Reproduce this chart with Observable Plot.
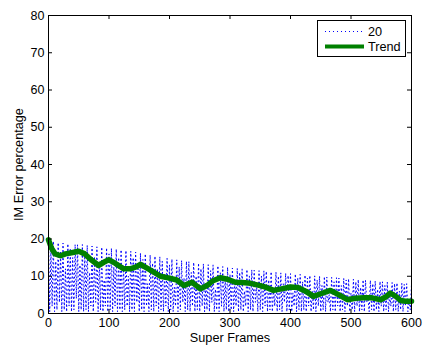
<!DOCTYPE html>
<html><head><meta charset="utf-8">
<script src="https://cdn.jsdelivr.net/npm/d3@7"></script>
<script src="https://cdn.jsdelivr.net/npm/@observablehq/plot@0.6"></script>
<style>body{margin:0;background:#fff}#chart{width:423px;height:351px}</style>
</head><body><div id="chart"></div>
<script>
const seriesLabel = "20";
const trendLabel = "Trend";
const xLabel = "Super Frames";
const yLabel = "IM Error percentage";
const xTicks = [0, 100, 200, 300, 400, 500, 600];
const yTicks = [0, 10, 20, 30, 40, 50, 60, 70, 80];
const frameStep = 2;
const errorValues = [
  19.8, 0.5, 17, 2, 19.4, 0.5, 14, 1, 19, 3, 16.5, 0.5, 18.9, 1, 12, 0.5, 18.7, 2, 17.5, 0.5, 15, 1, 18.5, 4, 18.4, 0.5, 13, 1, 18.5, 0.5,
  16, 1, 18.3, 0.5, 11, 2, 18.1, 0.5, 15, 3, 17.9, 0.5, 14, 1, 17.8, 0.5, 9, 2, 17.6, 0.5, 16, 1, 17.5, 0.5, 12.5, 2, 17.3, 0.5, 15, 1,
  17.1, 0.5, 13, 1, 16.9, 2, 10, 0.5, 16.7, 1, 15, 0.5, 16.5, 3, 12, 0.5, 16.2, 1, 14.5, 0.5, 16, 2, 8, 0.5, 15.7, 1, 13.5, 0.5, 15.4, 2,
  12, 0.5, 15.2, 1, 14, 0.5, 10.5, 2, 14.8, 0.5, 13, 1, 14.6, 0.5, 7, 2, 14.4, 0.5, 12.5, 1, 14.2, 3, 9.5, 0.5, 14, 1, 13.9, 0.5, 11, 2,
  13.7, 0.5, 10, 1, 13.5, 0.5, 12, 2, 13.3, 0.5, 8, 1, 13.1, 0.5, 11.5, 3, 13, 0.5, 6.5, 1, 12.8, 0.5, 11, 2, 12.6, 0.5, 9, 1, 12.4, 0.5,
  10.5, 1, 12.2, 0.5, 8.5, 2, 12.1, 0.5, 11, 1, 11.9, 0.5, 6, 2, 11.8, 0.5, 10, 1, 11.7, 0.5, 11.6, 3, 7.5, 0.5, 11.5, 1, 10, 0.5, 11.4, 2,
  11.3, 0.5, 9, 1, 11.2, 0.5, 6.5, 2, 11.1, 0.5, 10, 1, 10.9, 0.5, 8, 3, 10.8, 0.5, 10.2, 1, 10.7, 0.5, 5.5, 2, 10.6, 0.5, 9.5, 1, 10.5, 0.5,
  8.5, 1, 10.3, 0.5, 9.5, 2, 10.2, 0.5, 6, 1, 10.1, 0.5, 9, 2, 10, 0.5, 7.5, 1, 9.9, 0.5, 9.8, 3, 5, 0.5, 9.7, 1, 8.5, 0.5, 9.6, 2,
  9.5, 0.5, 7.5, 1, 9.4, 0.5, 9, 2, 9.3, 0.5, 5.5, 1, 9.2, 0.5, 8.5, 2, 9.1, 0.5, 7, 1, 9, 0.5, 8.9, 3, 4.5, 0.5, 8.9, 1, 8, 0.5,
  8.7, 1, 6.5, 0.5, 8.6, 2, 8.5, 0.5, 7.5, 1, 8.4, 0.5, 5, 2, 8.3, 0.5, 8, 1, 8.2, 0.5, 6, 1, 8.1, 0.5, 7.8, 2, 8, 0.5, 4, 1,
  7.8
];
const trendFrames = [0, 5, 11, 20, 28, 38, 50, 60, 70, 83, 92, 100, 110, 124, 135, 145, 152, 165, 175, 185,
  200, 212, 224, 237, 251, 262, 272, 284, 296, 309, 320, 334, 350, 360, 372, 385, 400, 412, 425, 438,
  450, 466, 480, 494, 507, 521, 535, 549, 558, 565, 575, 582, 590, 600];
const trendValues = [19.8, 17.5, 16, 15.5, 16, 16.3, 16.7, 16, 14.5, 12.9, 13.8, 14.4, 13.5, 12, 12, 12.5, 13.2, 12, 11, 10,
  9.5, 9, 7.5, 8.4, 6.6, 7.5, 8.8, 9.6, 9.2, 8.4, 8.3, 8.1, 7.5, 7, 6.2, 6.6, 7.1, 7, 6, 4.6,
  5.3, 6.2, 5, 3.7, 4.1, 4.2, 4.2, 3.7, 4.5, 5.5, 4.5, 3.5, 3.3, 3.3];

const errorData = errorValues.map((v, i) => ({frame: i * frameStep, value: v}));
const trendData = trendValues.map((v, i) => ({frame: trendFrames[i], value: v}));

const W = 423, H = 351, mL = 48, mR = 12, mT = 15, mB = 38;
const plotW = W - mL - mR, plotH = H - mT - mB;
const font = "'Liberation Sans', Arial, Helvetica, sans-serif";

const svg = Plot.plot({
  width: W, height: H,
  marginLeft: mL, marginRight: mR, marginTop: mT, marginBottom: mB,
  style: {fontFamily: font, fontSize: "12.5px", color: "black", background: "white"},
  x: {domain: [0, 600]},
  y: {domain: [0, 80]},
  marks: [
    Plot.line(errorData, {x: "frame", y: "value", stroke: "#0000ff", strokeWidth: 1, strokeDasharray: "1,3"}),
    Plot.line(trendData, {x: "frame", y: "value", stroke: "#008000", strokeWidth: 5.5, strokeLinejoin: "round", strokeLinecap: "round"}),
    Plot.frame({stroke: "black", strokeWidth: 1}),
    Plot.tickX(xTicks, {x: d => d, insetTop: plotH - 4, stroke: "black"}),
    Plot.tickX(xTicks, {x: d => d, insetBottom: plotH - 4, stroke: "black"}),
    Plot.tickY(yTicks, {y: d => d, insetRight: plotW - 4, stroke: "black"}),
    Plot.tickY(yTicks, {y: d => d, insetLeft: plotW - 4, stroke: "black"}),
    Plot.axisX({ticks: xTicks, tickSize: 0, tickPadding: 5, label: null}),
    Plot.axisY({ticks: yTicks, tickSize: 0, tickPadding: 4, label: null}),
    Plot.text([xLabel], {text: d => d, frameAnchor: "bottom", dy: 28, fontSize: 12.7}),
    Plot.text([yLabel], {text: d => d, frameAnchor: "left", textAnchor: "middle", dx: -30, rotate: -90, fontSize: 12.7})
  ]
});

// legend box inside the plot area (top-right)
const g = d3.select(svg).append("g").attr("font-family", font).attr("font-size", 12.7).attr("text-anchor", "start");
g.append("rect").attr("x", 317.5).attr("y", 20.5).attr("width", 88).attr("height", 36)
  .attr("fill", "white").attr("stroke", "black");
g.append("line").attr("x1", 325).attr("x2", 364).attr("y1", 31.5).attr("y2", 31.5)
  .attr("stroke", "#0000ff").attr("stroke-width", 1).attr("stroke-dasharray", "1,3");
g.append("line").attr("x1", 325).attr("x2", 364).attr("y1", 46.5).attr("y2", 46.5)
  .attr("stroke", "#008000").attr("stroke-width", 4);
g.append("text").attr("x", 368).attr("y", 36).attr("fill", "black").text(seriesLabel);
g.append("text").attr("x", 368).attr("y", 51).attr("fill", "black").text(trendLabel);

document.getElementById("chart").appendChild(svg);
</script>
</body></html>
